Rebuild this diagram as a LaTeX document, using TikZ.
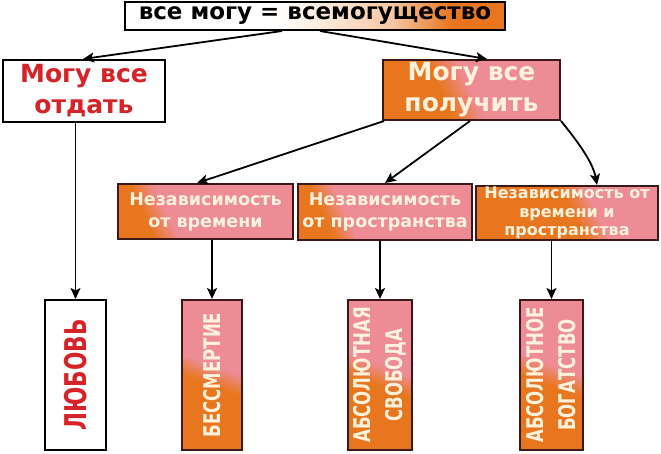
\documentclass[tikz,border=0pt]{standalone}
\usepackage{fontspec}
\setmainfont{DejaVu Sans}
\newfontfamily\condf[FakeStretch=0.72]{DejaVu Sans}
\usetikzlibrary{arrows.meta}
\definecolor{myor}{RGB}{232,118,30}
\definecolor{mypk}{RGB}{238,140,150}
\definecolor{bord}{RGB}{60,25,25}
\definecolor{myred}{RGB}{215,35,40}
\definecolor{cream}{RGB}{255,242,220}
\pgfdeclarehorizontalshading{orpkM}{100bp}{color(0bp)=(myor); color(40bp)=(myor); color(50bp)=(mypk); color(100bp)=(mypk)}
\pgfdeclarehorizontalshading{orpkV}{100bp}{color(0bp)=(myor); color(46bp)=(myor); color(54bp)=(mypk); color(100bp)=(mypk)}
\pgfdeclarehorizontalshading{orpkL}{100bp}{color(0bp)=(myor); color(29bp)=(myor); color(37bp)=(mypk); color(100bp)=(mypk)}
\pgfdeclarehorizontalshading{orpkR}{100bp}{color(0bp)=(myor); color(52bp)=(myor); color(60bp)=(mypk); color(100bp)=(mypk)}
\pgfdeclarehorizontalshading{wtor}{100bp}{color(0bp)=(white); color(45bp)=(white); color(60bp)=(myor!40); color(68bp)=(myor); color(100bp)=(myor)}
\begin{document}
\begin{tikzpicture}[x=1pt,y=-1pt,
  box/.style={draw=bord, line width=2pt, inner sep=0pt, align=center},
  topbox/.style={box, draw=black, shading=wtor, text=black,
    font=\bfseries\fontsize{23}{24}\selectfont},
  wbox/.style={box, draw=black, fill=white, text=myred,
    font=\bfseries\fontsize{25}{31}\selectfont},
  obig/.style={box, shading=orpkM, shading angle=25, text=cream,
    font=\bfseries\fontsize{25}{31}\selectfont},
  ind/.style={box, shading=orpkL, shading angle=25, text=cream,
    font=\bfseries\fontsize{17.5}{22}\selectfont},
  vbox/.style={box, minimum height=150pt, shading=orpkV, shading angle=70},
  vtext/.style={rotate=90, inner sep=0pt, align=center, text=cream,
    font=\condf\bfseries\fontsize{23}{32}\selectfont},
  arr/.style={-{Stealth[length=11pt,width=10pt,inset=2.5pt]}, line width=1.8pt, black},
]
\useasboundingbox (0,0) rectangle (661,453);
\fill[white] (0,0) rectangle (661,453);

\node[topbox, minimum width=380pt, minimum height=28pt] (T) at (315,16) {все могу = всемогущество};
\node[wbox, minimum width=162pt, minimum height=62pt] (A) at (84,91) {Могу все\\отдать};
\node[obig, minimum width=177pt, minimum height=60pt] (B) at (471.5,90) {Могу все\\получить};

\node[ind, minimum width=175pt, minimum height=55pt] (I1) at (205.5,211.5) {Независимость\\от времени};
\node[ind, minimum width=174pt, minimum height=56pt] (I2) at (385,212) {Независимость\\от пространства};
\node[ind, shading=orpkR, minimum width=182pt, minimum height=54pt,
  font=\bfseries\fontsize{16}{18.5}\selectfont] (I3) at (567,213) {Независимость от\\времени и\\пространства};

\node[box, draw=black, fill=white, minimum width=61pt, minimum height=150pt] (V1) at (75.5,375) {};
\node[vtext, text=myred, font=\condf\bfseries\fontsize{30}{31}\selectfont] (V1t) at (V1.center) {ЛЮБОВЬ};
\node[vbox, minimum width=60pt] (V2) at (212,375) {};
\node[vtext] (V2t) at (V2.center) {БЕССМЕРТИЕ};
\node[vbox, minimum width=64pt] (V3) at (380,375) {};
\node[vtext] (V3t) at (V3.center) {АБСОЛЮТНАЯ\\СВОБОДА};
\node[vbox, minimum width=63pt] (V4) at (551.5,375) {};
\node[vtext] (V4t) at (V4.center) {АБСОЛЮТНОЕ\\БОГАТСТВО};

\draw[arr] ([xshift=-33pt]T.south) -- ([xshift=-1pt]A.north);
\draw[arr] ([xshift=5pt]T.south) -- ([xshift=15.5pt]B.north);
\draw[arr] ([xshift=2pt]B.south west) -- ([xshift=-8.5pt]I1.north);
\draw[arr] ([xshift=-1.5pt]B.south) -- (I2.north);
\draw[arr] (B.south east) .. controls +(18,22) and +(-4,-22) .. ([xshift=30pt]I3.north);

\draw[arr] (V1.north |- A.south) -- (V1.north);
\draw[arr] (V2.north |- I1.south) -- (V2.north);
\draw[arr] (V3.north |- I2.south) -- (V3.north);
\draw[arr] (V4.north |- I3.south) -- (V4.north);
\end{tikzpicture}
\end{document}
